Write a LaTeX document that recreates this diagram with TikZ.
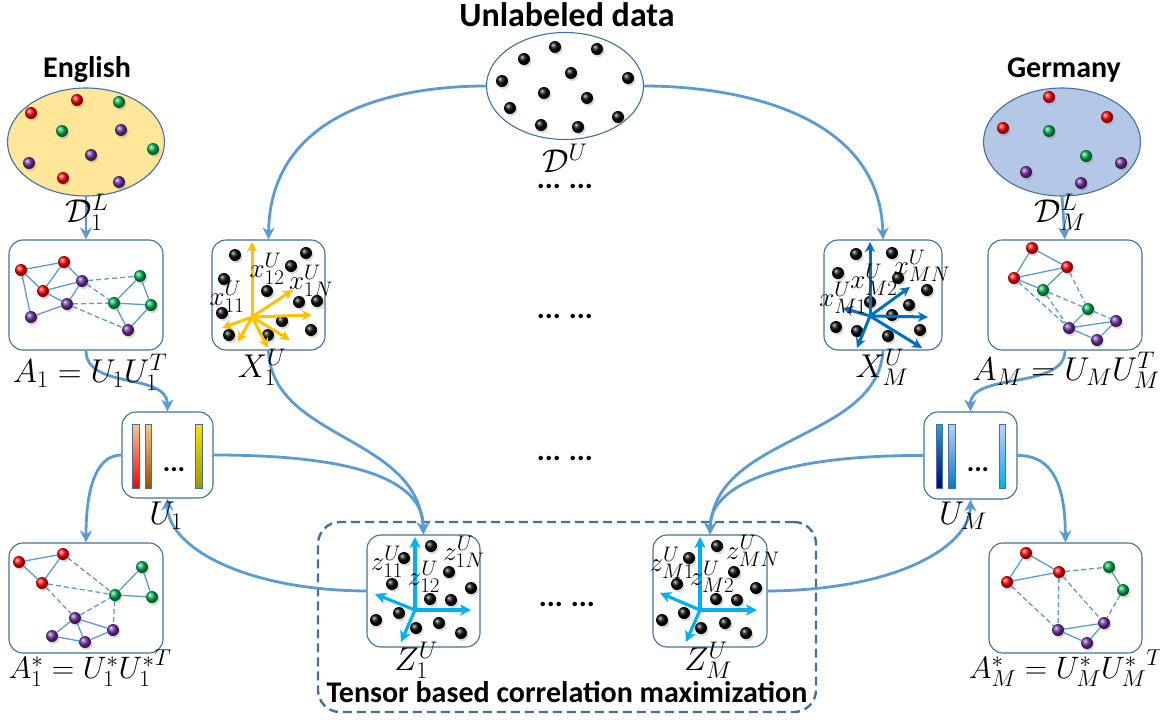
\RequirePackage{fix-cm}
\documentclass[tikz,border=0pt]{standalone}
\usepackage{fontspec}
\setsansfont{Carlito}
\usetikzlibrary{arrows.meta,shapes.geometric,shadows}
\DeclareMathSizes{27}{27}{21}{16}
\DeclareMathSizes{33}{33}{24}{18}
\DeclareMathSizes{31}{31}{23}{17}
\definecolor{conn}{HTML}{5B9BD5}
\definecolor{bord}{HTML}{41719C}
\definecolor{engfill}{HTML}{FFE699}
\definecolor{gerfill}{HTML}{B4C7E7}
\definecolor{dgreen}{HTML}{00B050}
\definecolor{dpurple}{HTML}{7030A0}
\definecolor{yellowax}{HTML}{FFC000}
\definecolor{blueax}{HTML}{0070C0}
\definecolor{cyanax}{HTML}{00B0F0}
\tikzset{
  dotb/.style={circle, inner sep=0pt, minimum size=12pt, draw=none,
     drop shadow={shadow xshift=1.5pt, shadow yshift=-2pt, opacity=0.3}},
  rdot/.style={dotb, ball color=red},
  gdot/.style={dotb, ball color=dgreen},
  pdot/.style={dotb, ball color=dpurple},
  kdot/.style={dotb, ball color=black},
  boxn/.style={draw=bord, line width=1.1pt, rounded corners=14pt, fill=white, inner sep=0pt},
  ell/.style={ellipse, draw=bord, line width=1.1pt, inner sep=0pt},
  conn/.style={draw=conn, line width=2.8pt, -{Stealth[length=12pt,width=12pt,inset=4pt]}},
  gedge/.style={draw=conn, line width=1.3pt},
  dedge/.style={gedge, dash pattern=on 5pt off 3pt},
  title/.style={font=\fontsize{30}{34}\selectfont\sffamily\bfseries},
  mlab/.style={font=\fontsize{33}{38}\selectfont, inner sep=0pt},
  mlabs/.style={font=\fontsize{31}{36}\selectfont, inner sep=0pt},
  alab/.style={font=\fontsize{27}{30}\selectfont, inner sep=0pt},
  dotsl/.style={font=\fontsize{30}{34}\selectfont\sffamily\bfseries},
  axY/.style={draw=yellowax, line width=3pt, -{Stealth[length=10pt,width=10pt,inset=3pt]}},
  axB/.style={draw=blueax, line width=3pt, -{Stealth[length=10pt,width=10pt,inset=3pt]}},
  axC/.style={draw=cyanax, line width=3.2pt, -{Stealth[length=11pt,width=11pt,inset=3pt]}},
  barn/.style={draw=bord, line width=0.8pt, inner sep=0pt, minimum width=6.5pt, minimum height=64pt},
}
\begin{document}
\begin{tikzpicture}[x=1pt,y=-1pt]
\useasboundingbox (0,0) rectangle (1160,720);

% ---------- tensor dashed box
\node[draw=bord, line width=2.4pt, dash pattern=on 9pt off 5pt, rounded corners=22pt,
      minimum width=498pt, minimum height=190pt, inner sep=0pt] (tenbox) at (567,617) {};

% ---------- titles
\node[title] (tEng) at (87,70) {English};
\node[title, font=\fontsize{34}{38}\selectfont\sffamily\bfseries] (tUnl) at (567,15) {Unlabeled data};
\node[title] (tGer) at (1064,70) {Germany};
\node[title] (tTen) at (567,692) {Tensor based correlation maximization};

% ---------- ellipses
\node[ell, fill=engfill, minimum width=157pt, minimum height=108pt] (eng) at (86,142) {};
\node[ell, fill=gerfill, minimum width=157pt, minimum height=108pt] (ger) at (1062,142) {};
\node[ell, fill=white, minimum width=157pt, minimum height=107pt] (unl) at (565,86) {};

\foreach \x/\y/\c [count=\i] in {77/100/rdot,119/102/gdot,31/113/rdot,62/131/gdot,121/130/pdot,153/149/gdot,91/155/pdot,29/163/pdot,63/178/rdot,119/182/pdot}
  \node[\c] (e\i) at (\x,\y) {};
\foreach \x/\y/\c [count=\i] in {1049/97/rdot,1107/117/rdot,1003/128/rdot,1049/131/gdot,1086/156/gdot,1121/163/pdot,1026/172/pdot,1081/183/pdot}
  \node[\c] (g\i) at (\x,\y) {};
\foreach \x/\y [count=\i] in {555/47,597/49,524/59,571/73,628/78,502/81,544/93,587/98,510/108,618/117,541/125,578/127}
  \node[kdot] (u\i) at (\x,\y) {};

% ---------- boxes
\node[boxn, minimum width=154pt, minimum height=110pt] (A1) at (86,295) {};
\node[boxn, minimum width=113pt, minimum height=110pt] (X1) at (268.5,295) {};
\node[boxn, minimum width=118pt, minimum height=110pt] (XM) at (883,295) {};
\node[boxn, minimum width=154pt, minimum height=110pt] (AM) at (1065,295) {};
\node[boxn, minimum width=91pt, minimum height=86pt] (U1) at (167.5,455) {};
\node[boxn, minimum width=93pt, minimum height=87pt] (UM) at (970.5,455.5) {};
\node[boxn, minimum width=154pt, minimum height=110pt] (A1s) at (86,598) {};
\node[boxn, minimum width=153pt, minimum height=110pt] (AMs) at (1065.5,598) {};
\node[boxn, minimum width=113pt, minimum height=112pt] (Z1) at (423.5,591) {};
\node[boxn, minimum width=114pt, minimum height=112pt] (ZM) at (710,591) {};

% ---------- graph A1
\foreach \n/\x/\y/\c in {a/21/270/rdot,b/64/262/rdot,c/43/291/rdot,d/82/281/pdot,e/67/304/pdot,f/31/317/pdot,g/140/276/gdot,h/114/303/gdot,i/151/305/gdot,j/128/330/pdot}
  \node[\c] (p\n) at (\x,\y) {};
\foreach \s/\t in {a/b,a/c,a/f,b/c,b/d,c/d,c/e,d/e,e/f,g/h,g/i,h/i,h/j,i/j}
  \draw[gedge] (p\s) -- (p\t);
\foreach \s/\t in {d/g,d/h,e/h,e/j}
  \draw[dedge] (p\s) -- (p\t);

% ---------- graph AM
\foreach \n/\x/\y/\c in {a/1032/248/rdot,b/1067/267/rdot,c/1014/278/rdot,d/1043/290/gdot,e/1088/309/gdot,f/1116/321/pdot,g/1069/328/pdot,h/1097/340/pdot}
  \node[\c] (q\n) at (\x,\y) {};
\foreach \s/\t in {a/b,a/c,b/c,b/d,c/d,e/g,g/f,g/h,h/f}
  \draw[gedge] (q\s) -- (q\t);
\foreach \s/\t in {d/e,b/e,c/g,d/g,e/f}
  \draw[dedge] (q\s) -- (q\t);

% ---------- graph A1*
\foreach \n/\x/\y/\c in {a/19/562/rdot,b/63/554/rdot,c/42/583/rdot,d/142/567/gdot,e/115/595/gdot,f/152/597/gdot,g/75/618/pdot,h/113/630/pdot,i/52/636/pdot,j/85/642/pdot}
  \node[\c] (r\n) at (\x,\y) {};
\foreach \s/\t in {a/b,a/c,b/c,d/e,d/f,e/f,g/h,g/i,g/j,i/j,j/h}
  \draw[gedge] (r\s) -- (r\t);
\foreach \s/\t in {b/e,c/e,c/g,g/e,e/h}
  \draw[dedge] (r\s) -- (r\t);

% ---------- graph AM*
\foreach \n/\x/\y/\c in {a/1026/553/rdot,b/1059/572/rdot,c/1007/582/rdot,d/1109/567/gdot,e/1123/590/gdot,f/1104/623/pdot,g/1058/630/pdot,h/1087/643/pdot}
  \node[\c] (s\n) at (\x,\y) {};
\foreach \s/\t in {a/b,a/c,b/c,d/e,g/f,g/h,h/f}
  \draw[gedge] (s\s) -- (s\t);
\foreach \s/\t in {b/d,b/g,c/g,b/f,e/f}
  \draw[dedge] (s\s) -- (s\t);

% ---------- X1
\foreach \x/\y [count=\i] in {235/255,306/253,291/266,224/279,267/291,299/302,317/301,222/313,282/321,311/330,229/335,268/335}
  \node[kdot] (xa\i) at (\x,\y) {};
\coordinate (xao) at (252,317);
\foreach \x/\y [count=\i] in {252/242,293/290,312/315,290/340,268/348,238/342,222/328}
  {\coordinate (xat\i) at (\x,\y); \draw[axY] (xao) -- (xat\i);}
\node[alab] (lx11) at (227,297) {$x_{11}^U$};
\node[alab] (lx12) at (267,269) {$x_{12}^U$};
\node[alab] (lx1N) at (311,281) {$x_{1N}^U$};

% ---------- XM
\foreach \x/\y [count=\i] in {856/254,892/253,838/273,898/278,927/290,870/302,909/305,892/315,836/327,857/331,888/336,920/330}
  \node[kdot] (xb\i) at (\x,\y) {};
\coordinate (xbo) at (870,316);
\foreach \x/\y [count=\i] in {870/242,910/287,928/317,922/348,857/348,843/308}
  {\coordinate (xbt\i) at (\x,\y); \draw[axB] (xbo) -- (xbt\i);}
\node[alab] (lxM1) at (843,298) {$x_{M1}^U$};
\node[alab] (lxM2) at (874,280) {$x_{M2}^U$};
\node[alab] (lxMN) at (922,266) {$x_{MN}^U$};

% ---------- Z1
\foreach \x/\y [count=\i] in {431/546,404/558,449/572,392/584,471/588,430/599,451/600,399/613,376/620,439/623,416/628,461/633}
  \node[kdot] (za\i) at (\x,\y) {};
\coordinate (zao) at (415,610);
\foreach \x/\y [count=\i] in {415/537,471/610,375/594,401/642}
  {\coordinate (zat\i) at (\x,\y); \draw[axC] (zao) -- (zat\i);}
\node[alab] (lz11) at (387,562) {$z_{11}^U$};
\node[alab] (lz12) at (424,577) {$z_{12}^U$};
\node[alab] (lz1N) at (464,552) {$z_{1N}^U$};

% ---------- ZM
\foreach \x/\y [count=\i] in {717/546,689/558,734/572,677/584,756/588,716/599,737/600,684/613,662/620,725/623,701/628,746/633}
  \node[kdot] (zb\i) at (\x,\y) {};
\coordinate (zbo) at (700,610);
\foreach \x/\y [count=\i] in {700/537,757/610,660/593,686/642}
  {\coordinate (zbt\i) at (\x,\y); \draw[axC] (zbo) -- (zbt\i);}
\node[alab] (lzM1) at (672,563) {$z_{M1}^U$};
\node[alab] (lzM2) at (712,577) {$z_{M2}^U$};
\node[alab] (lzMN) at (753,551) {$z_{MN}^U$};

% ---------- bars U1
\node[barn, top color=orange!45, bottom color=red] (b11) at (136,456) {};
\node[barn, top color=orange!45, bottom color=orange!60!black] (b12) at (148.5,456) {};
\node[barn, top color=yellow!75!orange, bottom color=yellow!60!black] (b13) at (199,456) {};
\node[dotsl, font=\fontsize{28}{30}\selectfont\sffamily\bfseries] (d1) at (174,470) {...};
% ---------- bars UM
\node[barn, top color=blue!30!cyan!60!gray, bottom color=blue!50!black] (bm1) at (939.5,456) {};
\node[barn, top color=cyan!20!blue!25, bottom color=blue!40!cyan!80!black] (bm2) at (952,456) {};
\node[barn, top color=cyan!20!blue!25, bottom color=cyanax] (bm3) at (1002.5,456) {};
\node[dotsl, font=\fontsize{28}{30}\selectfont\sffamily\bfseries] (d2) at (978,470) {...};

% ---------- connectors
\draw[conn] (unl.west) .. controls (400,86) and (270,110) .. (X1.north);
\draw[conn] (unl.east) .. controls (730,86) and (880,110) .. (XM.north);
\draw[conn] (eng.south) -- (A1.north);
\draw[conn] (ger.south) -- (AM.north);
\draw[conn] (A1.south) .. controls (86,390) and (167,372) .. (U1.north);
\draw[conn] (AM.south) .. controls (1065,390) and (970,372) .. (UM.north);
\draw[conn] (U1.west) .. controls (92,455) and (86,500) .. (A1s.north);
\draw[conn] (UM.east) .. controls (1060,455) and (1065,500) .. (AMs.north);
\draw[conn] (U1.east) .. controls (370,455) and (423,485) .. (Z1.north);
\draw[conn] (X1.south) .. controls (272,440) and (418,435) .. (Z1.north);
\draw[conn] (UM.west) .. controls (780,455) and (710,485) .. (ZM.north);
\draw[conn] (XM.south) .. controls (878,440) and (715,435) .. (ZM.north);
\draw[conn] (Z1.west) .. controls (240,590) and (167,545) .. (U1.south);
\draw[conn] (ZM.east) .. controls (900,590) and (970,545) .. (UM.south);

% ---------- ellipsis marks
\node[dotsl] (m1) at (565,186) {...\hspace{8pt}...};
\node[dotsl] (m2) at (565,316) {...\hspace{8pt}...};
\node[dotsl] (m3) at (565,458) {...\hspace{8pt}...};
\node[dotsl] (m4) at (567,604) {...\hspace{8pt}...};

% ---------- math labels
\node[mlab] (lD1) at (87,212) {$\mathcal{D}_1^L$};
\node[mlab] (lDU) at (565,158) {$\mathcal{D}^U$};
\node[mlab] (lDM) at (1060,212) {$\mathcal{D}_M^L$};
\node[mlab] (lA1) at (90,372) {$A_1=U_1U_1^T$};
\node[mlab] (lX1) at (262,367) {$X_1^U$};
\node[mlab] (lXM) at (882,367) {$X_M^U$};
\node[mlab] (lAM) at (1066,370) {$A_M=U_MU_M^T$};
\node[mlab] (lU1) at (166,516) {$U_1$};
\node[mlab] (lUM) at (963,516) {$U_M$};
\node[mlabs] (lA1s) at (90,668) {$A_1^*=U_1^*{U_1^*}^T$};
\node[mlabs] (lAMs) at (1066,668) {$A_M^*=U_M^*{U_M^*}^T$};
\node[mlab] (lZ1) at (416,660) {$Z_1^U$};
\node[mlab] (lZM) at (708,660) {$Z_M^U$};
\end{tikzpicture}
\end{document}
